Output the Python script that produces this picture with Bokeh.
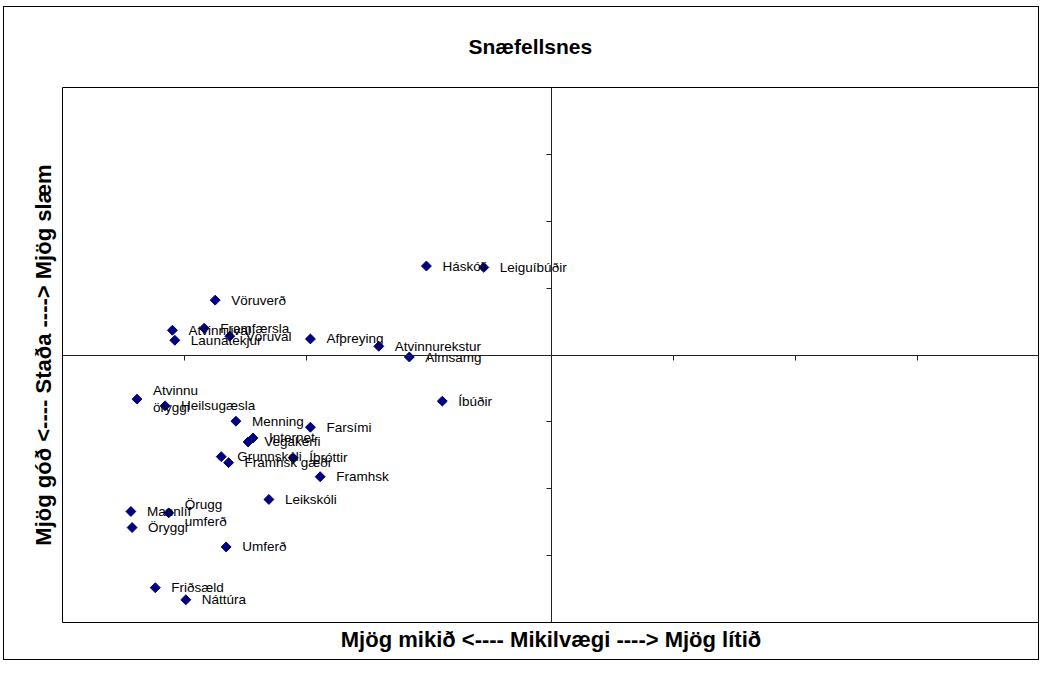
from bokeh.plotting import figure
from bokeh.models import ColumnDataSource, Range1d, FixedTicker, Title
from bokeh.core.properties import value
from bokeh.embed import file_html
from bokeh.resources import INLINE

# Data (x: Mikilvægi, y: Staða), in tick units around the crossing point
names = ["Vöruverð", "Atvinnuval", "Launatekjur", "Framfærsla", "Vöruval",
         "Afþreying", "Atvinnurekstur", "Almsamg", "Háskóli", "Leiguíbúðir",
         "Íbúðir", "Atvinnu\nöryggi", "Heilsugæsla", "Menning", "Farsími",
         "Internet", "Vegakerfi", "Grunnskóli", "Framhsk gæði", "Íþróttir",
         "Framhsk", "Leikskóli", "Mannlíf", "Örugg\numferð", "Öryggi",
         "Umferð", "Friðsæld", "Náttúra"]
mikilvaegi = [-2.75, -3.10, -3.08, -2.84, -2.63,
              -1.97, -1.41, -1.16, -1.02, -0.55,
              -0.89, -3.39, -3.16, -2.58, -1.97,
              -2.44, -2.48, -2.70, -2.64, -2.11,
              -1.89, -2.31, -3.44, -3.13, -3.43,
              -2.66, -3.24, -2.99]
stada = [0.82, 0.37, 0.22, 0.40, 0.28,
         0.24, 0.13, -0.03, 1.33, 1.31,
         -0.69, -0.66, -0.76, -0.99, -1.08,
         -1.24, -1.30, -1.52, -1.61, -1.54,
         -1.82, -2.16, -2.34, -2.36, -2.58,
         -2.87, -3.48, -3.66]

title_text = "Snæfellsnes"
x_title = "Mjög mikið <---- Mikilvægi ----> Mjög lítið"
y_title = "Mjög góð <---- Staða ----> Mjög slæm"

src = ColumnDataSource(dict(x=mikilvaegi, y=stada, name=names))

FONT = "Liberation Sans"

p = figure(width=1036, height=654, output_backend="svg", toolbar_location=None,
           x_range=Range1d(-4, 4), y_range=Range1d(-4, 4),
           min_border_left=58, min_border_right=1, min_border_top=80,
           min_border_bottom=39)
p.styles = {"border": "1px solid #000000", "margin": "6px 0px 0px 3px"}
p.background_fill_color = "white"
p.border_fill_color = "white"
p.outline_line_color = "black"
p.outline_line_width = 1
p.grid.visible = False

for ax in (p.xaxis[0], p.yaxis[0]):
    ax.fixed_location = 0
    ax.ticker = FixedTicker(ticks=[-3, -2, -1, 0, 1, 2, 3])
    ax.major_label_text_font_size = "0px"
    ax.major_label_text_color = None
    ax.minor_tick_line_color = None
    ax.major_tick_in = 0
    ax.major_tick_out = 5
    ax.axis_line_color = "#222222"
    ax.major_tick_line_color = "#222222"

p.add_layout(Title(text=title_text, align="left", text_font=FONT,
                   text_font_size="21px", text_font_style="bold",
                   text_color="black", offset=406, standoff=55,
                   vertical_align="top"), "above")
p.add_layout(Title(text=x_title, align="center", text_font=FONT,
                   text_font_size="22px", text_font_style="bold",
                   text_color="black", standoff=5), "below")
p.add_layout(Title(text=y_title, align="center", text_font=FONT,
                   text_font_size="22px", text_font_style="bold",
                   text_color="black", standoff=13), "left")

p.scatter("x", "y", source=src, marker="square", size=7, angle=0.785398,
          fill_color="#000080", line_color="#000080")
p.text("x", "y", text="name", source=src, x_offset=16, y_offset=0,
       text_baseline="middle", text_align="left",
       text_font=value(FONT), text_font_size="13.5px", text_color="black",
       text_line_height=1.15)

open("out.html", "w").write(file_html(p, INLINE))
